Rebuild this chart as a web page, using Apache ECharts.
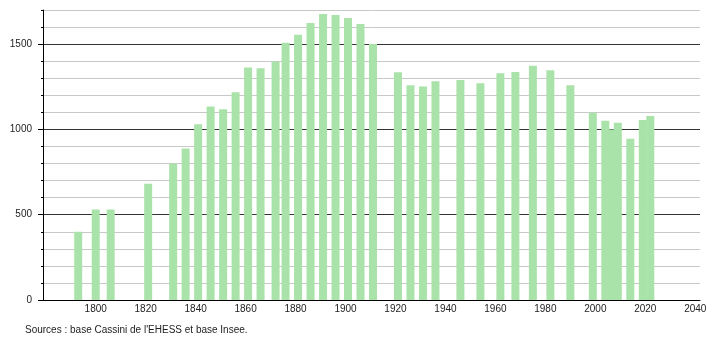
<!DOCTYPE html>
<html>
<head>
<meta charset="utf-8">
<script src="https://cdn.jsdelivr.net/npm/echarts@6/dist/echarts.min.js"></script>
<style>
html,body{margin:0;padding:0;background:#fff;}
#chart{width:710px;height:340px;}
</style>
</head>
<body>
<div id="chart"></div>
<script>
const years = [1793,1800,1806,1821,1831,1836,1841,1846,1851,1856,1861,1866,1872,1876,1881,1886,1891,1896,1901,1906,1911,1921,1926,1931,1936,1946,1954,1962,1968,1975,1982,1990,1999,2004,2007,2009,2014,2019,2022];
const population = [400,530,530,682,800,888,1030,1135,1118,1218,1363,1359,1398,1508,1555,1624,1676,1670,1653,1618,1500,1335,1259,1251,1282,1290,1271,1329,1337,1373,1347,1259,1098,1051,1000,1039,945,1055,1078];
const xTickLabels = [1800,1820,1840,1860,1880,1900,1920,1940,1960,1980,2000,2020,2040];
const yTickLabels = [0,500,1000,1500];
const sourceText = "Sources : base Cassini de l'EHESS et base Insee.";

const chart = echarts.init(document.getElementById('chart'), null, {renderer:'canvas'});
const font = 'Liberation Sans, Arial, sans-serif';
chart.setOption({
  animation:false,
  backgroundColor:'#fff',
  title:{text:sourceText,left:20,top:320,textStyle:{fontSize:10,fontWeight:'normal',color:'#222',fontFamily:font}},
  grid:{left:43,right:10,top:10,bottom:40,containLabel:false},
  xAxis:{
    type:'value',min:1778.9,max:2041.9,
    axisLine:{show:true,lineStyle:{color:'#000',width:1}},
    axisTick:{show:false},
    splitLine:{show:false},
    axisLabel:{margin:4,fontSize:10,color:'#222',fontFamily:font,customValues:xTickLabels,
      formatter:v=>String(Math.round(v))},
  },
  yAxis:[{
    type:'value',min:0,max:1700,interval:100,
    axisLine:{show:true,lineStyle:{color:'#000',width:1}},
    axisTick:{show:true,length:2,lineStyle:{color:'#000'}},
    splitLine:{show:true,lineStyle:{color:['#333','#c8c8c8','#c8c8c8','#c8c8c8','#c8c8c8'],width:1}},
    axisLabel:{margin:11,fontSize:10,color:'#222',fontFamily:font,
      formatter:v=> yTickLabels.includes(v) ? String(v) : ''}
  },{
    type:'value',min:0,max:1700,position:'left',
    axisLine:{show:false},
    axisTick:{show:true,length:5,customValues:yTickLabels,lineStyle:{color:'#000'}},
    axisLabel:{show:false},
    splitLine:{show:false}
  }],
  series:[{
    type:'bar',
    barWidth:8,
    itemStyle:{color:'#aae3aa'},
    data: years.map((y,i)=>[y,population[i]])
  }]
});
</script>
</body>
</html>
